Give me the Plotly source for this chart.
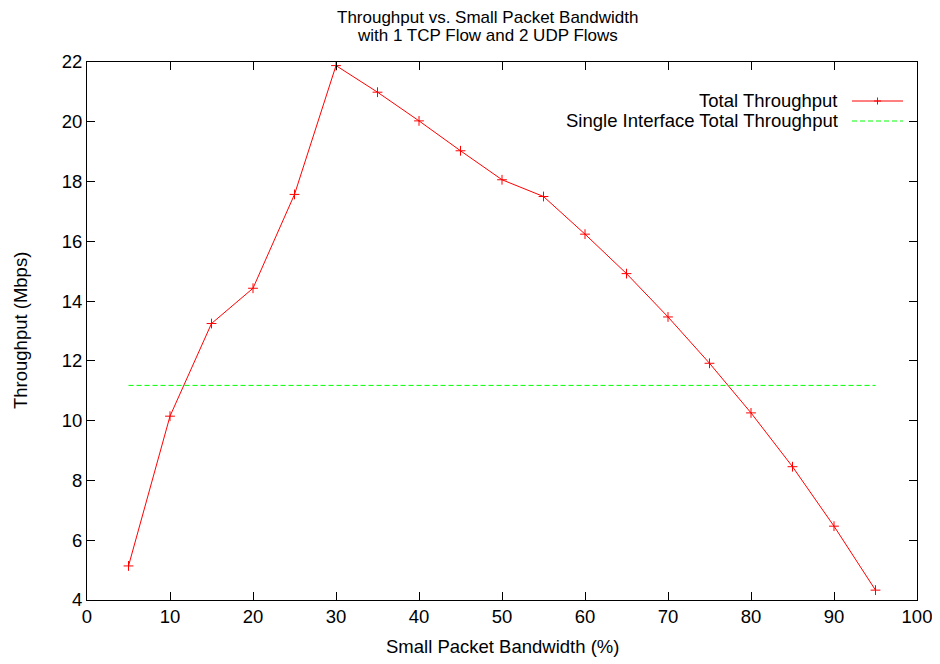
import plotly.graph_objects as go

# Small packet bandwidth (%) and total throughput (Mbps)
bandwidth = [5, 10, 15, 20, 25, 30, 35, 40, 45, 50, 55, 60, 65, 70, 75, 80, 85, 90, 95]
throughput = [5.14, 10.15, 13.25, 14.43, 17.57, 21.88, 20.99, 20.03, 19.03, 18.06,
              17.50, 16.24, 14.92, 13.47, 11.92, 10.26, 8.46, 6.47, 4.33]

# single interface reference throughput
single_x = [5, 95]
single_y = [11.18, 11.18]

W, H = 940, 664
OFF = 8  # page body margin shifts the figure
L, R, T, B = 87 - OFF, 23 + OFF, 62 - OFF, 64 + OFF
FS = 18.5
GREEN = '#00ff00'

fig = go.Figure()
fig.add_trace(go.Scatter(x=bandwidth, y=throughput, mode='lines+markers',
                         line=dict(color='#ff0000', width=1),
                         marker=dict(symbol='cross-thin', size=7,
                                     line=dict(color='#ff0000', width=1)),
                         name='Total Throughput', showlegend=False))
fig.add_trace(go.Scatter(x=single_x, y=single_y, mode='lines',
                         line=dict(color=GREEN, width=1, dash='5px,3px'),
                         name='Single Interface Total Throughput', showlegend=False))


def px(x):
    return (x - OFF - L) / (W - L - R)


def py(y):
    return 1 - (y - OFF - T) / (H - T - B)


# title, two lines set close together like gnuplot does
title_lines = [('Throughput vs. Small Packet Bandwidth', 18),
               ('with 1 TCP Flow and 2 UDP Flows', 36)]
for text, y in title_lines:
    fig.add_annotation(x=px(487), y=py(y), xref='paper', yref='paper', text=text,
                       showarrow=False, xanchor='center', yanchor='middle',
                       font=dict(size=17, color='black'))

# gnuplot style key (text on the left, sample on the right)
legend_rows = [('Total Throughput', 101, '#ff0000', 'solid'),
               ('Single Interface Total Throughput', 121, GREEN, '5px,3px')]
for text, y, color, dash in legend_rows:
    fig.add_annotation(x=px(840), y=py(y), xref='paper', yref='paper', text=text,
                       showarrow=False, xanchor='right', yanchor='middle',
                       font=dict(size=FS, color='black'))
    fig.add_shape(type='line', xref='paper', yref='paper', x0=px(852), x1=px(903),
                  y0=py(y), y1=py(y), line=dict(color=color, width=1, dash=dash))
# cross marker on the first key sample
fig.add_shape(type='line', xref='paper', yref='paper', x0=px(874), x1=px(881),
              y0=py(101), y1=py(101), line=dict(color='#ff0000', width=1))
fig.add_shape(type='line', xref='paper', yref='paper', x0=px(877.5), x1=px(877.5),
              y0=py(97.5), y1=py(104.5), line=dict(color='#ff0000', width=1))

# axis titles
fig.add_annotation(x=px(502), y=py(647), xref='paper', yref='paper',
                   text='Small Packet Bandwidth (%)', showarrow=False,
                   xanchor='center', yanchor='middle', font=dict(size=FS, color='black'))
fig.add_annotation(x=px(20), y=py(331), xref='paper', yref='paper',
                   text='Throughput (Mbps)', showarrow=False, textangle=-90,
                   xanchor='center', yanchor='middle', font=dict(size=FS, color='black'))

axis_common = dict(showgrid=False, zeroline=False, showline=True, linecolor='black',
                   linewidth=1, mirror='ticks', ticks='inside', ticklen=8,
                   tickcolor='black', automargin=False,
                   tickfont=dict(size=FS, color='black'))

fig.update_xaxes(range=[0, 100], dtick=10, tick0=0, **axis_common)
fig.update_yaxes(range=[4, 22], dtick=2, tick0=4, **axis_common)

fig.update_layout(
    width=W, height=H,
    margin=dict(l=L, r=R, t=T, b=B, autoexpand=False),
    paper_bgcolor='white', plot_bgcolor='white',
    font=dict(family='Liberation Sans, Arial, sans-serif', color='black'),
)

fig.write_html("out.html")
